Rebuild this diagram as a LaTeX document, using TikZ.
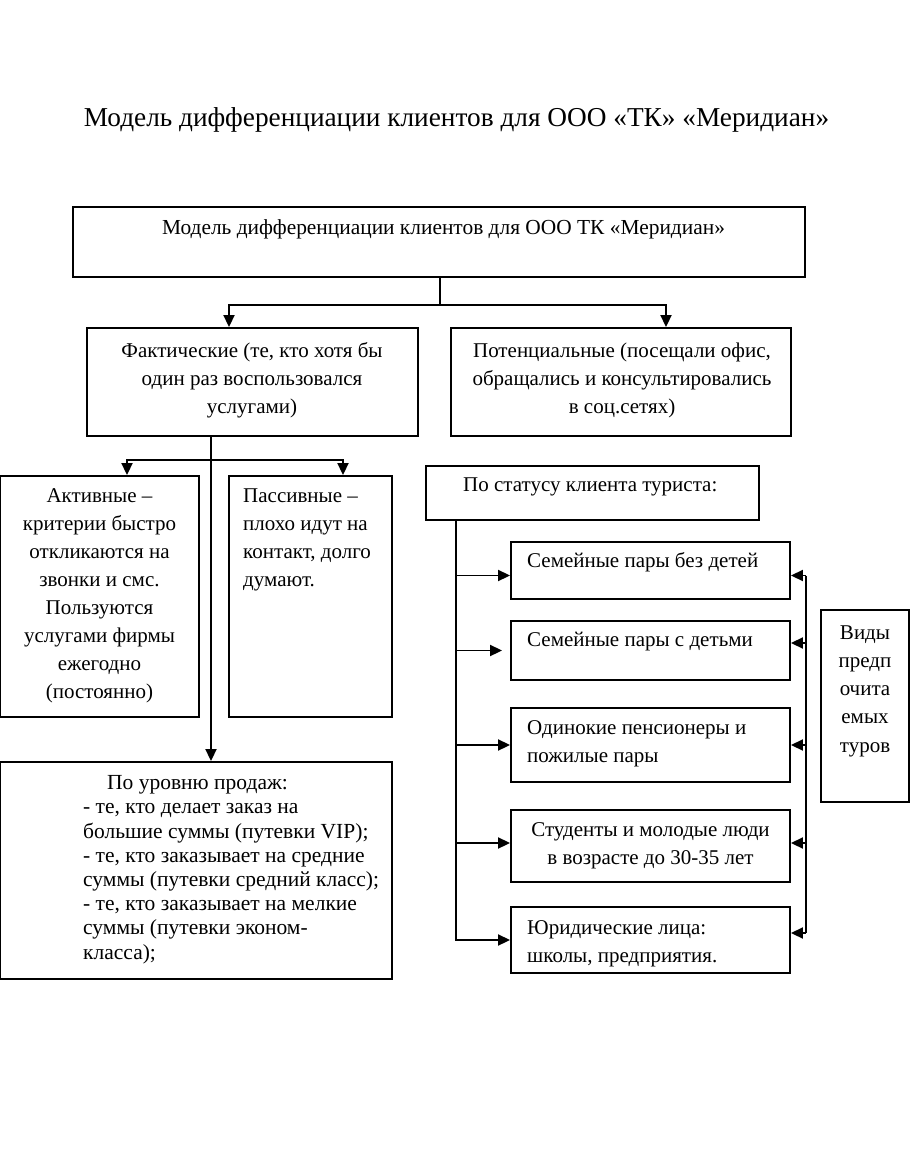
\documentclass[tikz,border=0pt]{standalone}
\usepackage{fontspec}
\setmainfont{Liberation Serif}
\usetikzlibrary{arrows.meta}
\newcommand{\boxfont}{\fontsize{21}{28}\selectfont}
\newcommand{\salesfont}{\fontsize{21.5}{24.2}\selectfont}
\newcommand{\titlefont}{\fontsize{27.3}{32}\selectfont}
\begin{document}
\begin{tikzpicture}[x=1pt,y=-1pt,
  box/.style={draw=black, line width=1.9pt, inner sep=0pt, rectangle},
  txt/.style={inner sep=0pt, font=\boxfont},
  conn/.style={line width=1.9pt},
  arr/.style={line width=1.9pt, -{Triangle[length=12pt,width=11pt]}}]
\useasboundingbox[fill=white] (0,0) rectangle (910,1155);

% title
\node[inner sep=0pt, font=\titlefont, anchor=base] (title) at (456.5,127) {Модель дифференциации клиентов для ООО «ТК» «Меридиан»};

% boxes
\node[box, minimum width=732pt, minimum height=70pt] (top) at (439,242) {};
\node[box, minimum width=331pt, minimum height=108pt] (fact) at (252.5,382) {};
\node[box, minimum width=340pt, minimum height=108pt] (pot) at (621,382) {};
\node[box, minimum width=199pt, minimum height=241pt] (act) at (99.5,596.5) {};
\node[box, minimum width=163pt, minimum height=241pt] (pas) at (310.5,596.5) {};
\node[box, minimum width=392pt, minimum height=217pt] (sales) at (196,870.5) {};
\node[box, minimum width=333pt, minimum height=54pt] (stat) at (592.5,493) {};
\node[box, minimum width=279pt, minimum height=57pt] (s1) at (650.5,570.5) {};
\node[box, minimum width=279pt, minimum height=59pt] (s2) at (650.5,650.5) {};
\node[box, minimum width=279pt, minimum height=74pt] (s3) at (650.5,745) {};
\node[box, minimum width=279pt, minimum height=72pt] (s4) at (650.5,846) {};
\node[box, minimum width=279pt, minimum height=66pt] (s5) at (650.5,940) {};
\node[box, minimum width=88pt, minimum height=192pt] (vidy) at (865,706) {};

% texts
\node[txt, anchor=base, font=\fontsize{21.4}{28}\selectfont] (ttop) at (443.5,235) {Модель дифференциации клиентов для ООО ТК «Меридиан»};
\node[txt, anchor=north, align=center] (tfact) at (252,338) {\strut Фактические (те, кто хотя бы\\один раз воспользовался\\услугами)};
\node[txt, anchor=north, align=center] (tpot) at (622,338) {\strut Потенциальные (посещали офис,\\обращались и консультировались\\в соц.сетях)};
\node[txt, anchor=north, align=center] (tact) at (99.5,483) {\strut Активные –\\критерии быстро\\откликаются на\\звонки и смс.\\Пользуются\\услугами фирмы\\ежегодно\\(постоянно)};
\node[txt, anchor=north west, align=left] (tpas) at (243,483) {\strut Пассивные –\\плохо идут на\\контакт, долго\\думают.};
\node[txt, anchor=north west, align=left, font=\salesfont] (tsales) at (83,772.6) {\strut\hspace*{24pt}По уровню продаж:\\- те, кто делает заказ на\\большие суммы (путевки VIP);\\- те, кто заказывает на средние\\суммы (путевки средний класс);\\- те, кто заказывает на мелкие\\суммы (путевки эконом-\\класса);};
\node[txt, anchor=north west, align=left] (tstat) at (463,472) {\strut По статусу клиента туриста:};
\node[txt, anchor=north west, align=left] (ts1) at (527,548) {\strut Семейные пары без детей};
\node[txt, anchor=north west, align=left] (ts2) at (527,627) {\strut Семейные пары с детьми};
\node[txt, anchor=north west, align=left] (ts3) at (527,715) {\strut Одинокие пенсионеры и\\пожилые пары};
\node[txt, anchor=north, align=center] (ts4) at (650.5,817) {\strut Студенты и молодые люди\\в возрасте до 30-35 лет};
\node[txt, anchor=north west, align=left] (ts5) at (527,915) {\strut Юридические лица:\\школы, предприятия.};
\node[txt, anchor=north, align=center, font=\fontsize{21}{28.3}\selectfont] (tvidy) at (865,619) {\strut Виды\\предп\\очита\\емых\\туров};

% connectors: top level
\coordinate (j0) at ([xshift=1]top.south);
\coordinate (j1) at ([xshift=1,yshift=-27]top.south);
\draw[conn] (j0) -- (j1);
\draw[arr] (j1) -| ([xshift=-23.5]fact.north);
\draw[arr] (j1) -| ([xshift=45]pot.north);

% factual branch
\draw[arr] ([xshift=-41.5]fact.south) -- ([xshift=15]sales.north);
\coordinate (j2) at ([xshift=-41.5,yshift=-23]fact.south);
\draw[arr] (j2) -| ([xshift=27.5]act.north);
\draw[arr] (j2) -| ([xshift=32.5]pas.north);

% target points on the status boxes
\coordinate (w1) at ([yshift=-5]s1.west);
\coordinate (w2) at ([xshift=-8]s2.west);
\coordinate (w3) at (s3.west);
\coordinate (w4) at ([yshift=3]s4.west);
\coordinate (e1) at ([yshift=-5]s1.east);
\coordinate (e2) at ([yshift=7.5]s2.east);
\coordinate (e3) at (s3.east);
\coordinate (e4) at ([yshift=3]s4.east);
\coordinate (e5) at ([yshift=7]s5.east);

% status branch (left side)
\coordinate (L) at ([xshift=31]stat.south west);
\draw[arr] (L) |- (s5.west);
\draw[arr] (L |- w1) -- (w1);
\draw[arr] (L |- w2) -- (w2);
\draw[arr] (L |- w3) -- (w3);
\draw[arr] (L |- w4) -- (w4);

% right side bus
\coordinate (Rt) at ([xshift=15]e1);
\coordinate (Rb) at ([xshift=15]e5);
\draw[conn] (Rt) -- (Rb);
\draw[arr] (Rt) -- (e1);
\draw[arr] (Rt |- e2) -- (e2);
\draw[arr] (Rt |- e3) -- (e3);
\draw[arr] (Rt |- e4) -- (e4);
\draw[arr] (Rb) -- (e5);
\end{tikzpicture}
\end{document}
